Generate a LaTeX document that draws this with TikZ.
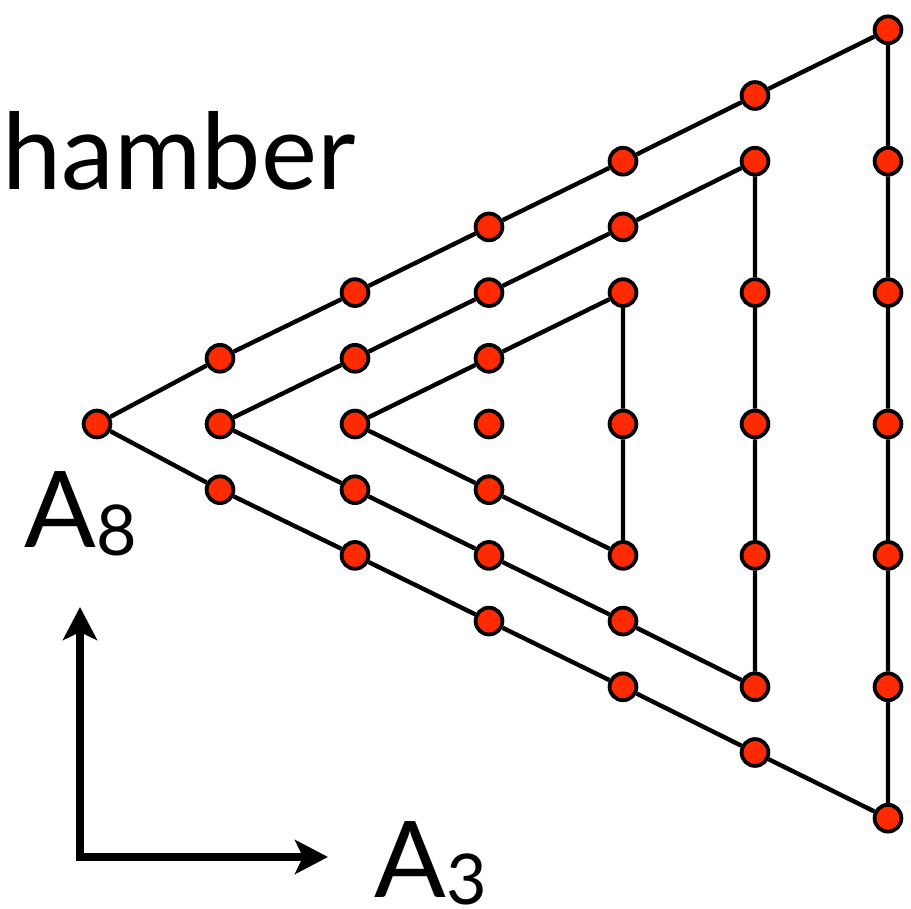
\documentclass[tikz,border=0pt]{standalone}
\usepackage{fontspec}
\setmainfont{Lato}
\usetikzlibrary{arrows.meta}

\definecolor{dotred}{RGB}{255,42,0}

\begin{document}
\begin{tikzpicture}[
    x=0.5pt, y=-0.5pt,
    dot/.style={circle, draw=black, line width=1.9pt, fill=dotred, inner sep=0pt, minimum size=13.4pt},
    edge/.style={line width=2.2pt},
    axis/.style={{Stealth[length=16.5pt, width=17pt, inset=4pt]}-{Stealth[length=16.5pt, width=17pt, inset=4pt]}, line width=3.6pt, line join=miter},
    big/.style={font=\fontsize{53}{53}\selectfont, inner sep=0pt},
]

    \useasboundingbox (0,0) rectangle (911,909);
    \clip (0,0) rectangle (911,909);

%% NODES
    % lattice points, column k and row m
    \foreach \k/\m in {0/0, 1/-1, 1/0, 1/1, 2/-2, 2/-1, 2/0, 2/1, 2/2,
                       3/-3, 3/-2, 3/-1, 3/0, 3/1, 3/2, 3/3,
                       4/-4, 4/-3, 4/-2, 4/0, 4/2, 4/3, 4/4,
                       5/-5, 5/-4, 5/-2, 5/0, 5/2, 5/4, 5/5,
                       6/-6, 6/-4, 6/-2, 6/0, 6/2, 6/4, 6/6} {
        \pgfmathsetmacro{\px}{{97,220,355,489,623,755,888}[\k]}
        \node[dot] (p\k\m) at (\px, {424+65.7*\m}) {};
    }

    % labels
    \node[big, anchor=base east] (title) at (356,190) {chamber};
    \node[big, anchor=base west] (labA8) at (24,547) {A\raisebox{-4pt}{\fontsize{35}{35}\selectfont 8}};
    \node[big, anchor=base west] (labA3) at (374,897) {A\raisebox{-3.5pt}{\fontsize{35}{35}\selectfont 3}};

    \coordinate (origin) at (80,857);
    \coordinate (tipA8) at (80,607);
    \coordinate (tipA3) at (328,857);

%% EDGES
    % outer triangle
    \draw[edge] (p00) -- (p1-1) -- (p2-2) -- (p3-3) -- (p4-4) -- (p5-5) -- (p6-6)
        -- (p6-4) -- (p6-2) -- (p60) -- (p62) -- (p64) -- (p66)
        -- (p55) -- (p44) -- (p33) -- (p22) -- (p11) -- (p00);
    % middle triangle
    \draw[edge] (p10) -- (p2-1) -- (p3-2) -- (p4-3) -- (p5-4)
        -- (p5-2) -- (p50) -- (p52) -- (p54)
        -- (p43) -- (p32) -- (p21) -- (p10);
    % inner triangle
    \draw[edge] (p20) -- (p3-1) -- (p4-2) -- (p40) -- (p42) -- (p31) -- (p20);

    % axes
    \draw[axis] (tipA8) -- (origin) -- (tipA3);

\end{tikzpicture}
\end{document}
